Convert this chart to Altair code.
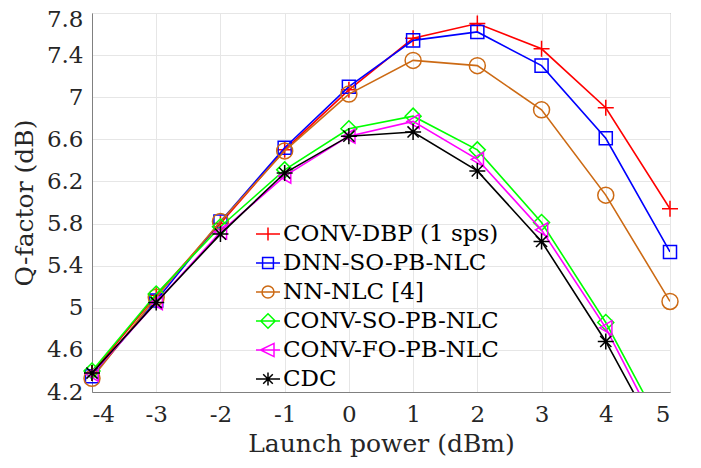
import altair as alt
import pandas as pd

power = [-4, -3, -2, -1, 0, 1, 2, 3, 4, 5]

series_names = ["CONV-DBP (1 sps)", "DNN-SO-PB-NLC", "NN-NLC [4]",
                "CONV-SO-PB-NLC", "CONV-FO-PB-NLC", "CDC"]
conv_dbp = [4.38, 5.12, 5.80, 6.50, 7.07, 7.56, 7.70, 7.46, 6.90, 5.94]
dnn_so = [4.35, 5.07, 5.82, 6.52, 7.10, 7.54, 7.62, 7.30, 6.61, 5.53]
nn_nlc = [4.33, 5.10, 5.82, 6.49, 7.03, 7.35, 7.30, 6.88, 6.07, 5.06]
conv_so = [4.40, 5.13, 5.77, 6.31, 6.70, 6.82, 6.50, 5.81, 4.86, 3.72]
conv_fo = [4.37, 5.05, 5.72, 6.25, 6.63, 6.77, 6.41, 5.74, 4.81, 3.62]
cdc = [4.38, 5.05, 5.70, 6.28, 6.63, 6.67, 6.30, 5.63, 4.68, 3.56]

colors = ["#FF0000", "#0000FF", "#CC6A14", "#00FF00", "#FF00FF", "#000000"]
plot_shapes = ["M-1,0H1M0,-1V1", "square", "circle", "diamond", "triangle-left",
               "M-1,0H1M0,-1V1M-0.7,-0.7L0.7,0.7M-0.7,0.7L0.7,-0.7"]
plot_sizes = [256, 170, 256, 256, 200, 256]
legend_shapes = [
    "M-1,0H1M0,-0.55V0.55",
    "M-1,0H1M-0.45,-0.45H0.45V0.45H-0.45Z",
    "M-1,0H1M0.5,0A0.5,0.5 0 1,1 -0.5,0A0.5,0.5 0 1,1 0.5,0",
    "M-1,0H1M0,-0.6L0.6,0L0,0.6L-0.6,0Z",
    "M-1,0H1M-0.62,0L0.5,-0.55L0.5,0.55Z",
    "M-1,0H1M0,-0.55V0.55M-0.4,-0.4L0.4,0.4M-0.4,0.4L0.4,-0.4",
]

all_vals = [conv_dbp, dnn_so, nn_nlc, conv_so, conv_fo, cdc]
rows = []
for name, vals in zip(series_names, all_vals):
    for p, v in zip(power, vals):
        rows.append({"power": p, "q": v, "series": name})
df = pd.DataFrame(rows)

FONT = "DejaVu Serif"

x_enc = alt.X("power:Q",
              scale=alt.Scale(domain=[-4, 5], nice=False),
              axis=alt.Axis(values=power, title="Launch power (dBm)",
                            labelExpr="datum.value < 0 ? '-' + abs(datum.value) : '' + datum.value"))
y_enc = alt.Y("q:Q",
              scale=alt.Scale(domain=[4.2, 7.8], nice=False, zero=False),
              axis=alt.Axis(values=[4.2, 4.6, 5.0, 5.4, 5.8, 6.2, 6.6, 7.0, 7.4, 7.8],
                            format=".2~f", title="Q-factor (dB)",
                            labelOffset={"condition": {"test": "datum.value >= 7.79", "value": 6},
                                         "value": 0}))

base = alt.Chart(df)

layers = []
for name, col, shp, sz in zip(series_names, colors, plot_shapes, plot_sizes):
    ln = base.transform_filter(alt.datum.series == name).mark_line(
        color=col, strokeWidth=1.6, clip=True
    ).encode(x=x_enc, y=y_enc)
    pts = base.transform_filter(
        (alt.datum.series == name) & (alt.datum.q >= 4.2)
    ).mark_point(shape=shp, size=sz, filled=False, strokeWidth=1.5,
                 color=col, opacity=1).encode(x=x_enc, y=y_enc)
    layers += [ln, pts]

leg = alt.Legend(title=None, orient="none", legendX=163, legendY=208,
                 symbolOpacity=1, symbolStrokeWidth=1.5, symbolSize=576,
                 symbolFillColor="transparent", labelLimit=0,
                 labelFont=FONT, labelFontSize=23, labelColor="#000000",
                 rowPadding=4, labelOffset=2, padding=0)

legend_layer = base.mark_point(filled=False, opacity=0, strokeWidth=1.5).encode(
    x=x_enc, y=y_enc,
    color=alt.Color("series:N", scale=alt.Scale(domain=series_names, range=colors),
                    legend=leg),
    shape=alt.Shape("series:N", scale=alt.Scale(domain=series_names, range=legend_shapes),
                    legend=leg),
)
layers.append(legend_layer)

chart = alt.layer(*layers).properties(
    width=578, height=379,
    autosize=alt.AutoSizeParams(type="none"),
    padding={"left": 84, "top": 5, "right": 23, "bottom": 70},
).configure_view(
    stroke="#808080", strokeWidth=1
).configure_axis(
    labelFont=FONT, titleFont=FONT, labelFontSize=23, titleFontSize=25,
    labelColor="#262626", titleColor="#262626", titleFontWeight="normal",
    grid=True, gridColor="#E6E6E6", gridWidth=1,
    domainColor="#808080", ticks=False,
).configure_axisY(
    labelPadding=9, titlePadding=9
).configure_axisX(
    labelPadding=11, titlePadding=5
)

chart.save("out.html", embed_options={"renderer": "svg", "actions": False})
